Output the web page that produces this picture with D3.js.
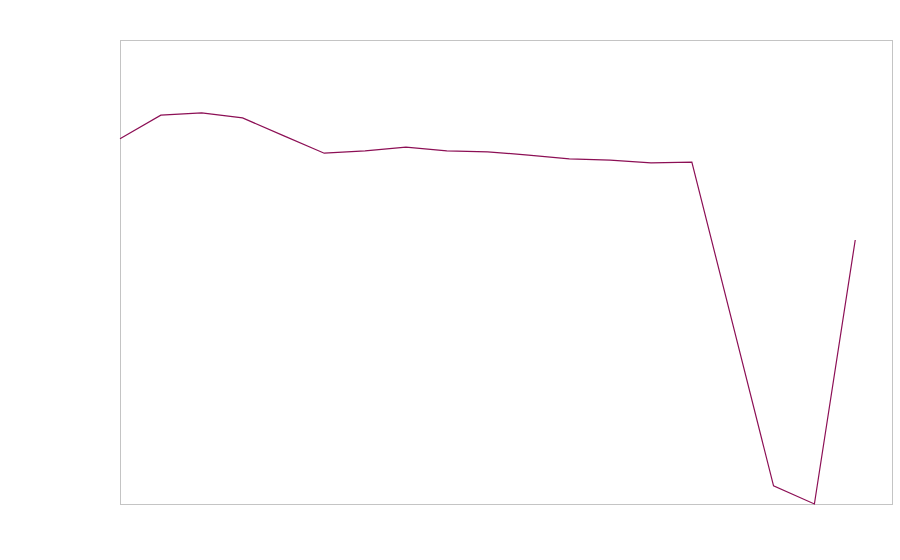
<!DOCTYPE html>
<html>
<head>
<meta charset="utf-8">
<script src="https://cdn.jsdelivr.net/npm/d3@7"></script>
<style>
  body { margin: 0; background: #fff; }
</style>
</head>
<body>
<div id="chart"></div>
<script>
// values (index = period)
const periods = d3.range(19);
const values = [78.7, 83.8, 84.3, 83.2, 79.4, 75.6, 76.1, 76.9, 76.1, 75.9,
                75.2, 74.4, 74.1, 73.5, 73.7, 38.8, 3.9, 0, 56.9];
const xDomain = [0, 18.9];
const yDomain = [0, 100];

const margin = { top: 40, right: 8, bottom: 56, left: 120 };
const width = 900 - margin.left - margin.right;
const height = 560 - margin.top - margin.bottom;

const svg = d3.select("#chart")
  .append("svg")
  .attr("width", 900)
  .attr("height", 560)
  .append("g")
  .attr("transform", `translate(${margin.left},${margin.top})`);

const x = d3.scaleLinear().domain(xDomain).range([0, width]);
const y = d3.scaleLinear().domain(yDomain).range([height, 0]);

// plot frame
svg.append("rect")
  .attr("x", 0.5)
  .attr("y", 0.5)
  .attr("width", width)
  .attr("height", height)
  .attr("fill", "none")
  .attr("stroke", "#c4c4c4")
  .attr("stroke-width", 1);

const line = d3.line()
  .x((d, i) => x(periods[i]))
  .y(d => y(d));

svg.append("path")
  .datum(values)
  .attr("fill", "none")
  .attr("stroke", "#8c0f55")
  .attr("stroke-width", 1.2)
  .attr("d", line);
</script>
</body>
</html>
